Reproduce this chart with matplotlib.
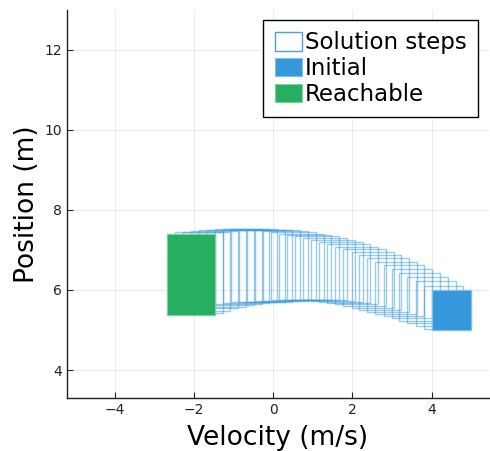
import matplotlib
matplotlib.use("Agg")
import matplotlib.pyplot as plt
from matplotlib.patches import Rectangle

# box bounds of every solution step (velocity, position)
v_lo = [4.00, 3.80, 3.60, 3.39, 3.19, 2.99, 2.79, 2.58, 2.38, 2.18,
        1.98, 1.77, 1.57, 1.37, 1.17, 0.96, 0.76, 0.56, 0.36, 0.15,
        -0.05, -0.25, -0.45, -0.66, -0.86, -1.06, -1.26, -1.47, -1.67, -1.87,
        -2.07, -2.27, -2.48, -2.68]
v_hi = [5.00, 4.80, 4.61, 4.41, 4.22, 4.02, 3.82, 3.63, 3.43, 3.24,
        3.04, 2.84, 2.65, 2.45, 2.26, 2.06, 1.86, 1.67, 1.47, 1.28,
        1.08, 0.88, 0.69, 0.49, 0.30, 0.10, -0.10, -0.29, -0.49, -0.68,
        -0.88, -1.08, -1.27, -1.46]
p_lo = [5.00, 5.03, 5.10, 5.17, 5.23, 5.29, 5.35, 5.41, 5.46, 5.51,
        5.56, 5.60, 5.64, 5.67, 5.70, 5.72, 5.74, 5.75, 5.75, 5.75,
        5.74, 5.73, 5.72, 5.71, 5.70, 5.69, 5.67, 5.65, 5.62, 5.58,
        5.54, 5.48, 5.43, 5.375]
p_hi = [6.00, 6.11, 6.23, 6.33, 6.43, 6.53, 6.62, 6.71, 6.79, 6.87,
        6.95, 7.02, 7.08, 7.14, 7.20, 7.25, 7.30, 7.34, 7.38, 7.41,
        7.44, 7.47, 7.49, 7.50, 7.51, 7.52, 7.52, 7.52, 7.51, 7.50,
        7.48, 7.46, 7.44, 7.41]

blue = "#3498db"
green = "#27ae60"

fig = plt.figure(figsize=(4.9, 4.51), dpi=100)
ax = fig.add_axes([0.1367, 0.1175, 0.8613, 0.8605])

for i in range(len(v_lo)):
    ax.add_patch(Rectangle((v_lo[i], p_lo[i]), v_hi[i] - v_lo[i], p_hi[i] - p_lo[i],
                           facecolor="none", edgecolor=blue, lw=1.0, alpha=0.5,
                           label="Solution steps" if i == 0 else None))

ax.add_patch(Rectangle((v_lo[0], p_lo[0]), v_hi[0] - v_lo[0], p_hi[0] - p_lo[0],
                       facecolor=blue, edgecolor="#7fbfea", lw=0.8, label="Initial"))
ax.add_patch(Rectangle((v_lo[-1], p_lo[-1]), v_hi[-1] - v_lo[-1], p_hi[-1] - p_lo[-1],
                       facecolor=green, edgecolor="#7fcf9f", lw=0.8, label="Reachable"))

ax.set_xlim(-5.2, 5.45)
ax.set_ylim(3.3, 13.0)
ax.set_xticks([-4, -2, 0, 2, 4])
ax.set_yticks([4, 6, 8, 10, 12])
ax.grid(True, color="#000000", alpha=0.08, lw=0.8)
ax.set_axisbelow(True)
for s in ["top", "right"]:
    ax.spines[s].set_visible(False)
for s in ["left", "bottom"]:
    ax.spines[s].set_linewidth(1.0)
    ax.spines[s].set_color("#222222")
ax.tick_params(direction="in", length=4, width=0.8, labelsize=10, colors="#222222",
               labelcolor="#222222")

ax.set_xlabel("Velocity (m/s)", fontsize=19, labelpad=6)
ax.set_ylabel("Position (m)", fontsize=19, labelpad=3)

leg = ax.legend(loc="upper right", bbox_to_anchor=(0.974, 0.974), borderaxespad=0,
                fontsize=16.5, fancybox=False, framealpha=1, edgecolor="black",
                handlelength=1.2, handleheight=0.85, handletextpad=0.12,
                labelspacing=0.12, borderpad=0.5)
leg.get_frame().set_linewidth(1.0)
# legend swatch for the step outlines drawn fully opaque
leg.legend_handles[0].set_alpha(0.9)

fig.savefig("out.png", dpi=100)
